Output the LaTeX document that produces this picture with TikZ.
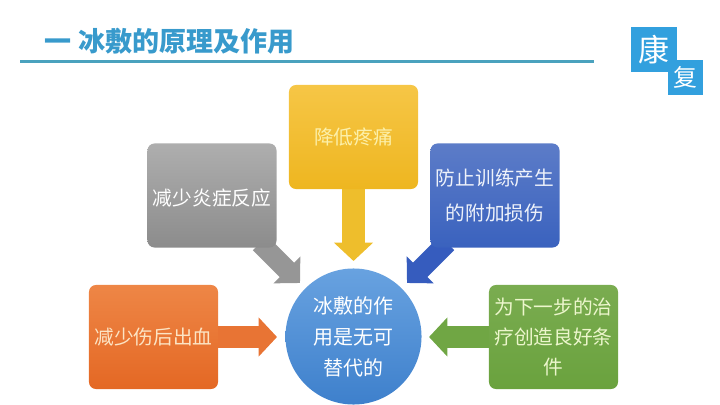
\documentclass[tikz,border=0pt]{standalone}
\usepackage{fontspec}
\setmainfont{Noto Sans CJK SC}
\usetikzlibrary{arrows.meta, backgrounds}

\definecolor{title blue}{RGB}{56,154,204}
\definecolor{rule blue}{RGB}{74,162,190}
\definecolor{logo blue}{RGB}{50,160,222}

\tikzset{
	box/.style = {rounded corners = 5pt, minimum width = 3.225cm, minimum height = 2.6cm, inner sep = 0pt, align = center, font = \fontsize{14}{20}\selectfont},
	low text/.style = {execute at begin node = \rule{0pt}{16pt}},
	block/.style = {line width = 16pt, -{Triangle[width = 27pt, length = 13pt]}},
	slant block/.style = {line width = 14.5pt, -{Triangle[width = 26.3pt, length = 13.2pt]}},
	logo/.style = {fill = logo blue, text = white, inner sep = 0pt}
}

\begin{document}
\begin{tikzpicture}[x = 0.025cm, y = -0.025cm]
		\useasboundingbox (0,0) rectangle (720,405);
		
		\coordinate (tip gray) at (300,283);
		\coordinate (tip blue) at (407,283);
		\coordinate (tip yellow) at (353.5,261);
		\coordinate (tip orange) at (277,337);
		\coordinate (tip green) at (429,337);
		\coordinate (start gray) at (260,243);
		\coordinate (start blue) at (447,243);
		\coordinate (rule start) at (20,61.5);
		\coordinate (rule end) at (594,61.5);
		
		\node [anchor = west, text = title blue, font = \fontsize{19.2}{19}\selectfont\bfseries] (title) at (40,41) {一 冰敷的原理及作用};
		\draw [rule blue, line width = 1.5pt] (rule start) -- (rule end);
		
		\node [logo, minimum width = 1.15cm, minimum height = 1.125cm, font = \fontsize{22}{22}\selectfont] (logo big) at (654,49.5) {康};
		\node [logo, minimum width = 0.875cm, minimum height = 0.875cm, font = \fontsize{17}{17}\selectfont] (logo small) at (685.5,77.5) {复};
		
		\node [box, top color = {rgb,255:red,246;green,198;blue,70}, bottom color = {rgb,255:red,238;green,182;blue,32}, text = {rgb,255:red,252;green,240;blue,170}] (pain) at (353.5,137) {降低疼痛};
		\node [box, low text, top color = {rgb,255:red,174;green,174;blue,174}, bottom color = {rgb,255:red,140;green,140;blue,140}, text = white] (swelling) at (212,195.5) {减少炎症反应};
		\node [box, low text, top color = {rgb,255:red,92;green,124;blue,200}, bottom color = {rgb,255:red,58;green,98;blue,190}, text = {rgb,255:red,238;green,242;blue,250}, font = \fontsize{14}{25}\selectfont] (injury) at (495,195.5) {防止训练产生\\的附加损伤};
		\node [box, top color = {rgb,255:red,238;green,134;blue,70}, bottom color = {rgb,255:red,228;green,104;blue,36}, text = {rgb,255:red,252;green,228;blue,196}] (bleeding) at (153.5,337) {减少伤后出血};
		\node [box, top color = {rgb,255:red,122;green,172;blue,80}, bottom color = {rgb,255:red,106;green,162;blue,62}, text = {rgb,255:red,236;green,246;blue,204}, font = \fontsize{14}{21}\selectfont] (treatment) at (553.5,337) {为下一步的治\\疗创造良好条\\件};
		\node [circle, minimum size = 3.4cm, inner sep = 0pt, align = center, top color = {rgb,255:red,104;green,162;blue,224}, bottom color = {rgb,255:red,62;green,128;blue,204}, text = white, font = \fontsize{14.2}{22}\selectfont] (main) at (353.5,336.5) {冰敷的作\\用是无可\\替代的};
		
		\begin{scope}[on background layer]
			\draw [block, draw = {rgb,255:red,238;green,190;blue,44}] (pain.south) -- (tip yellow);
			\draw [block, draw = {rgb,255:red,232;green,116;blue,52}] (bleeding.east) -- (tip orange);
			\draw [block, draw = {rgb,255:red,112;green,166;blue,68}] (treatment.west) -- (tip green);
			\draw [slant block, draw = {rgb,255:red,150;green,150;blue,150}] (start gray) -- (tip gray);
			\draw [slant block, draw = {rgb,255:red,54;green,92;blue,190}] (start blue) -- (tip blue);
		\end{scope}
	\end{tikzpicture}
\end{document}
